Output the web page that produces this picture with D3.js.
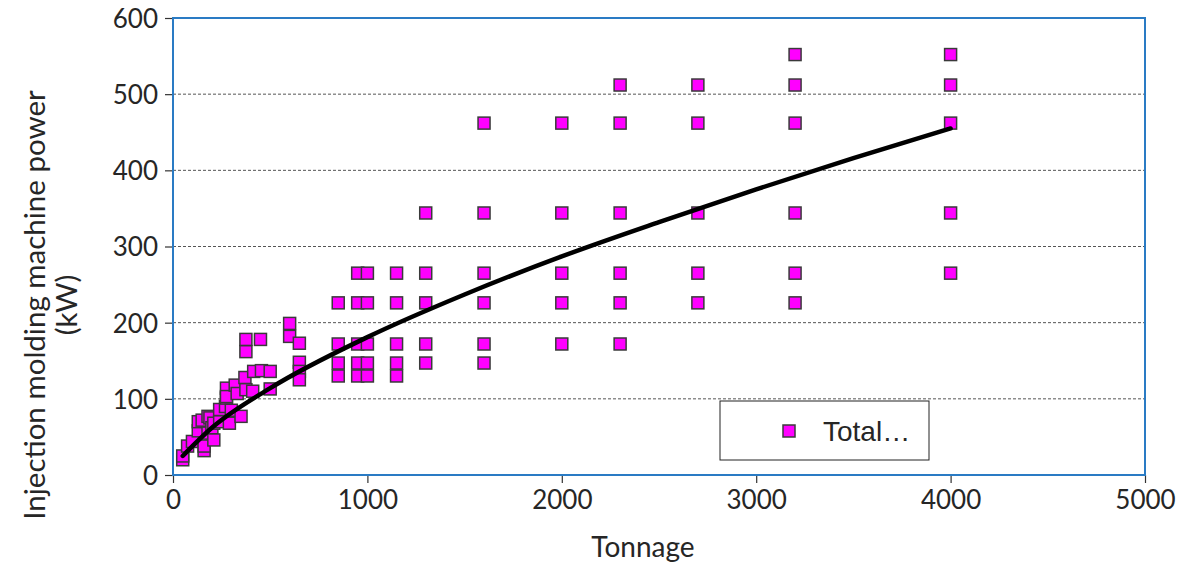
<!DOCTYPE html>
<html>
<head>
<meta charset="utf-8">
<script src="https://cdn.jsdelivr.net/npm/d3@7"></script>
<style>
  body { margin: 0; background: #fff; }
  svg text { font-family: Lato, "Open Sans", sans-serif; fill: #262626; }
</style>
</head>
<body>
<svg width="1204" height="564"></svg>
<script>
/* global d3 */

var width = 1204,
  height = 564;

// data: tonnage / power (kW)
var tonnage = [
  50, 50, 75, 100, 130, 130, 150, 160, 160, 180, 180, 190, 200, 210, 210, 240, 240, 270, 275, 275,
  275, 290, 300, 320, 330, 350, 370, 375, 375, 375, 410, 415, 450, 455, 500, 500,
  600, 600, 650, 650, 650, 650,
  850, 850, 850, 850,
  950, 950, 950, 950, 950,
  1000, 1000, 1000, 1000, 1000,
  1150, 1150, 1150, 1150, 1150,
  1300, 1300, 1300, 1300, 1300,
  1600, 1600, 1600, 1600, 1600, 1600,
  2000, 2000, 2000, 2000, 2000,
  2300, 2300, 2300, 2300, 2300, 2300,
  2700, 2700, 2700, 2700, 2700,
  3200, 3200, 3200, 3200, 3200, 3200,
  4000, 4000, 4000, 4000, 4000
];

var power = [
  20, 25, 38, 44, 58, 70, 72, 32, 38, 55, 77, 75, 62, 46, 68, 70, 86, 90, 101, 114,
  103, 68, 85, 118, 107, 77, 128, 112, 162, 178, 110, 136, 178, 137, 136, 113,
  199, 182, 173, 148, 136, 125,
  226, 172, 147, 130,
  265, 226, 172, 147, 130,
  265, 226, 172, 147, 130,
  265, 226, 172, 147, 130,
  344, 265, 226, 172, 147,
  462, 344, 265, 226, 172, 147,
  462, 344, 265, 226, 172,
  512, 462, 344, 265, 226, 172,
  512, 462, 344, 265, 226,
  552, 512, 462, 344, 265, 226,
  552, 512, 462, 344, 265
];

// trend line
var trendX = [ 50, 200, 500, 1000, 1500, 2000, 2500, 3000, 3500, 4000 ];
var trendY = [ 25, 62, 114, 181, 237, 287, 332, 375, 416, 455 ];

var xTicks = [ 0, 1000, 2000, 3000, 4000, 5000 ];
var yTicks = [ 0, 100, 200, 300, 400, 500, 600 ];

var seriesName = "Total\u2026";

var margin = { left: 173, top: 18, right: 1145, bottom: 475 };

var svg = d3.select( "svg" );

var xScale = d3.scaleLinear()
  .domain( [ 0, 5000 ] )
  .range( [ margin.left, margin.right ] );

var yScale = d3.scaleLinear()
  .domain( [ 0, 600 ] )
  .range( [ margin.bottom, margin.top ] );

// gridlines
svg.append( "g" )
  .selectAll( "line" )
  .data( yTicks.filter( d => d > 0 && d < 600 ) )
  .enter().append( "line" )
    .attr( "x1", margin.left )
    .attr( "x2", margin.right )
    .attr( "y1", d => yScale( d ) )
    .attr( "y2", d => yScale( d ) )
    .attr( "stroke", "#555" )
    .attr( "stroke-width", 1 )
    .attr( "stroke-dasharray", "3,2" );

// axes
var xAxis = d3.axisBottom( xScale ).tickValues( xTicks ).tickFormat( d3.format( "d" ) ).tickSize( 8 ).tickPadding( 8 );
var yAxis = d3.axisLeft( yScale ).tickValues( yTicks ).tickFormat( d3.format( "d" ) ).tickSize( 8 ).tickPadding( 7 );

var gx = svg.append( "g" )
  .attr( "transform", "translate(0," + margin.bottom + ")" )
  .call( xAxis );

var gy = svg.append( "g" )
  .attr( "transform", "translate(" + margin.left + ",0)" )
  .call( yAxis );

[ gx, gy ].forEach( g => {
  g.select( ".domain" ).remove();
  g.selectAll( ".tick line" ).attr( "stroke", "#333" ).attr( "stroke-width", 1.2 );
  g.selectAll( ".tick text" )
    .style( "font-family", "Lato, sans-serif" )
    .style( "font-size", "26px" )
    .attr( "fill", "#262626" );
} );

gy.selectAll( ".tick text" ).attr( "dy", "0.36em" );

// plot border
svg.append( "rect" )
  .attr( "x", margin.left )
  .attr( "y", margin.top )
  .attr( "width", margin.right - margin.left )
  .attr( "height", margin.bottom - margin.top )
  .attr( "fill", "none" )
  .attr( "stroke", "#2a7bc4" )
  .attr( "stroke-width", 2 );

// points
var size = 12;

svg.append( "g" )
  .selectAll( "rect" )
  .data( d3.zip( tonnage, power ) )
  .enter().append( "rect" )
    .attr( "x", d => xScale( d[ 0 ] ) - size / 2 )
    .attr( "y", d => yScale( d[ 1 ] ) - size / 2 )
    .attr( "width", size )
    .attr( "height", size )
    .attr( "fill", "#ff00ff" )
    .attr( "stroke", "#3a3a3a" )
    .attr( "stroke-width", 1.5 );

// trend line, drawn over the points
var line = d3.line()
  .x( d => xScale( d[ 0 ] ) )
  .y( d => yScale( d[ 1 ] ) )
  .curve( d3.curveMonotoneX );

svg.append( "path" )
  .datum( d3.zip( trendX, trendY ) )
  .attr( "d", line )
  .attr( "fill", "none" )
  .attr( "stroke", "#000" )
  .attr( "stroke-width", 4.5 )
  .attr( "stroke-linecap", "round" );

// legend
var legend = svg.append( "g" );

legend.append( "rect" )
  .attr( "x", 720 )
  .attr( "y", 401 )
  .attr( "width", 209 )
  .attr( "height", 59 )
  .attr( "fill", "#fff" )
  .attr( "stroke", "#222" )
  .attr( "stroke-width", 1 );

legend.append( "rect" )
  .attr( "x", 789 - 6 )
  .attr( "y", 431 - 6 )
  .attr( "width", 12 )
  .attr( "height", 12 )
  .attr( "fill", "#ff00ff" )
  .attr( "stroke", "#3a3a3a" )
  .attr( "stroke-width", 1.5 );

legend.append( "text" )
  .attr( "x", 823 )
  .attr( "y", 441 )
  .style( "font-family", "'Liberation Sans', Arial, sans-serif" )
  .style( "font-size", "28px" )
  .attr( "fill", "#111" )
  .text( seriesName );

// axis titles
svg.append( "text" )
  .attr( "x", 643 )
  .attr( "y", 557 )
  .attr( "text-anchor", "middle" )
  .style( "font-size", "28px" )
  .text( "Tonnage" );

var yTitle = svg.append( "text" )
  .attr( "transform", "translate(0,305) rotate(-90)" )
  .attr( "text-anchor", "middle" )
  .style( "font-size", "29.5px" );

yTitle.append( "tspan" )
  .attr( "x", 0 )
  .attr( "y", 45 )
  .text( "Injection molding machine power" );

yTitle.append( "tspan" )
  .attr( "x", 0 )
  .attr( "y", 77 )
  .text( "(kW)" );
</script>
</body>
</html>
